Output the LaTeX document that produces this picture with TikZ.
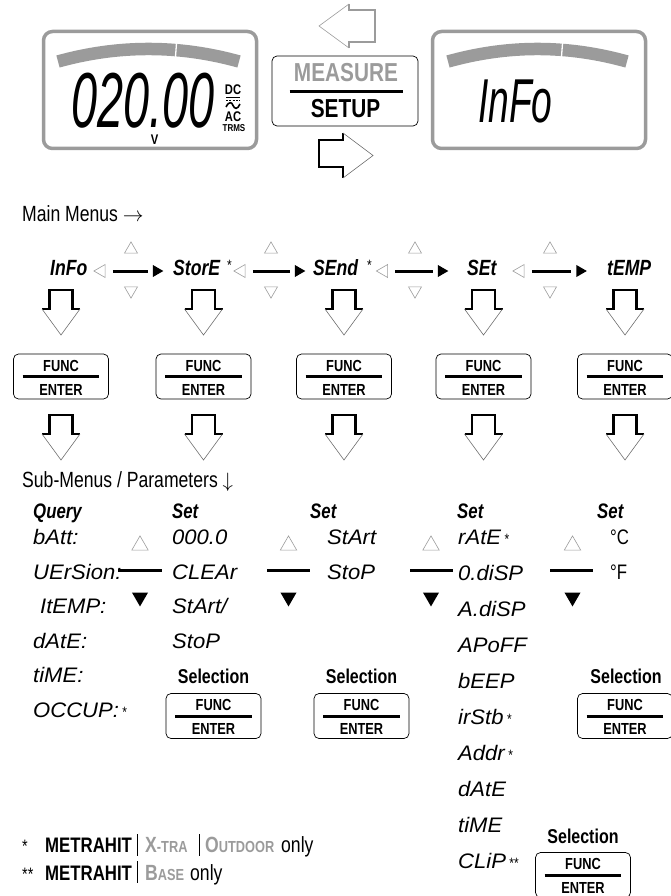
\documentclass[tikz,border=0pt]{standalone}
\usepackage{fontspec}
\setmainfont[FakeStretch=0.8]{Liberation Sans}
\newfontfamily\segfont[FakeStretch=1.05]{Liberation Sans}
\newfontfamily\lcdfont[FakeStretch=0.6]{Liberation Sans}
\usetikzlibrary{shapes.geometric,positioning}
\definecolor{lcdgray}{RGB}{155,155,155}
\definecolor{tipgray}{RGB}{110,110,110}
\newcommand\fsz[1]{\fontsize{#1}{#1}\selectfont}
\newcommand\astx[1]{\,{\normalfont\fsz{15}#1}}

\tikzset{
  lcdbox/.style={draw=lcdgray, line width=3.5pt, rounded corners=9pt, minimum width=213pt, minimum height=117pt},
  lcdbar/.style={draw=lcdgray, line width=12.5pt},
  keybox/.style={draw, line width=0.7pt, rounded corners=5pt, minimum width=95pt, minimum height=45pt, inner sep=0pt},
  keyrule/.style={line width=3pt},
  keytext/.style={font=\fsz{16}\bfseries, inner sep=0pt, anchor=base},
  sectitle/.style={font=\fsz{22}, inner sep=0pt, anchor=base west},
  header/.style={font=\fsz{21}\bfseries\itshape, inner sep=0pt, anchor=base west},
  menuitem/.style={font=\fsz{22}\bfseries\itshape, inner sep=0pt, anchor=base west},
  subitem/.style={font=\segfont\fsz{21}\itshape, inner sep=0pt, anchor=base west},
  seltext/.style={font=\fsz{20}\bfseries, inner sep=0pt, anchor=base},
  tri/.style={regular polygon, regular polygon sides=3, inner sep=0pt},
  graytri/.style={tri, draw=lcdgray, line width=0.6pt},
  blacktri/.style={tri, fill=black},
  menuline/.style={line width=3pt},
  shaft/.style={line width=2.6pt, line join=miter},
  head/.style={draw=tipgray, line width=0.6pt, line join=miter}
}

\begin{document}
\begin{tikzpicture}[x=1pt, y=-1pt]
\useasboundingbox (0,0) rectangle (671,896);

% displays
\node[lcdbox] (lcdL) at (150,90) {};
\node[lcdbox] (lcdR) at (539,90) {};
\draw[lcdbar] (58,61.5) .. controls (118,44.8) and (179,44.8) .. (239,61.5);
\draw[lcdbar] (448,61.5) .. controls (508,44.8) and (567,44.8) .. (627,61.5);
\draw[white, line width=1.3pt] (176.6,42) -- (175.4,58);
\draw[white, line width=1.3pt] (562.6,42) -- (561.4,58);
\node[font=\lcdfont\fsz{78}\itshape, inner sep=0pt, text depth=0pt, anchor=base west] (reading) at (71,128) {020.00};
\node[font=\fsz{14}\bfseries, inner sep=0pt, anchor=base] (unit) at (154.5,145) {V};
\node[font=\fsz{14}\bfseries, inner sep=0pt, anchor=base] (dc) at (233,95) {DC};
\draw[line width=1.6pt] (226,97.5) -- (240,97.5);
\draw[line width=1.2pt, dash pattern=on 2pt off 1.3pt] (226,100.5) -- (240,100.5);
\draw[line width=1.6pt] (226,107) .. controls (229,101) and (232,102) .. (233,105.5) .. controls (234.5,109) and (237.5,110) .. (240,104);
\node[font=\fsz{14}\bfseries, inner sep=0pt, anchor=base] (ac) at (233,122) {AC};
\node[font=\fsz{10}\bfseries, inner sep=0pt, anchor=base] (trms) at (234,132) {TRMS};
\node[font=\lcdfont\fsz{62}\itshape, inner sep=0pt, anchor=base west] (infolcd) at (478,123) {InFo};

% mode key
\node[keybox, minimum width=146pt, minimum height=70pt] (mode) at (345,91) {};
\node[font=\fsz{26}\bfseries, text=lcdgray, inner sep=0pt, anchor=base] (measure) at (346,82) {MEASURE};
\draw[keyrule] ([xshift=18pt]mode.west |- 0,92) -- ([xshift=-15pt]mode.east |- 0,92);
\node[font=\fsz{26}\bfseries, inner sep=0pt, anchor=base] (setup) at (345.5,118) {SETUP};
\draw[shaft, draw=lcdgray] (349,4) -- (349,10) -- (375,10) -- (375,42) -- (349,42) -- (349,48);
\draw[head, draw=lcdgray] (349,48) -- (319,26) -- (349,4);
\draw[shaft] (343,133) -- (343,140) -- (319,140) -- (319,167) -- (343,167) -- (343,178);
\draw[head] (343,178) -- (373,155.5) -- (343,133);

% main menus
\node[sectitle] (mainlbl) at (22,221.5) {Main Menus $\rightarrow$};
\node[menuitem] (info) at (50,275) {InFo};
\node[menuitem] (store) at (173,275) {StorE};
\node[menuitem] (send) at (313,275) {SEnd};
\node[menuitem] (set) at (467,275) {SEt};
\node[menuitem] (temp) at (607,275) {tEMP};
\node[font=\fsz{15}, inner sep=0pt, anchor=base west] (storestar) at (227,270) {*};
\node[font=\fsz{15}, inner sep=0pt, anchor=base west] (sendstar) at (367,270) {*};
\foreach \lx/\rx/\mx [count=\i] in {101.4/156.3/131, 241.4/298.3/271, 383.9/441.3/415, 520.4/579.8/550} {
  \node[graytri, minimum size=15pt, shape border rotate=90] (lt\i) at (\lx,271) {};
  \node[blacktri, minimum size=14pt, shape border rotate=-90] (rt\i) at (\rx,271) {};
  \draw[menuline, shorten <=7.5pt, shorten >=4.8pt] (lt\i) -- (rt\i);
  \node[graytri, minimum size=15pt] (up\i) at (\mx,249.4) {};
  \node[graytri, minimum size=15pt, shape border rotate=180] (dn\i) at (\mx,290.6) {};
}

% enter keys and arrows
\foreach \cx in {61,203.5,344,483.5,625}
  \foreach \ty in {290,415} {
    \draw[shaft] (\cx-19,\ty+19) -- (\cx-11.5,\ty+19) -- (\cx-11.5,\ty) -- (\cx+11.5,\ty) -- (\cx+11.5,\ty+19) -- (\cx+19,\ty+19);
    \draw[head] (\cx+19,\ty+19) -- (\cx,\ty+45) -- (\cx-19,\ty+19);
  }
\foreach \kx/\ky [count=\k] in {61/376.5, 203.5/376.5, 344/376.5, 483.5/376.5, 625/376.5, 213.5/716, 361.5/716, 625/716, 583/875} {
  \node[keybox] (key\k) at (\kx,\ky) {};
  \draw[keyrule] ([xshift=9.5pt]key\k.west) -- ([xshift=-9.5pt]key\k.east);
  \node[keytext] at ([yshift=5.5pt]key\k.center) {FUNC};
  \node[keytext] at ([yshift=-18.5pt]key\k.center) {ENTER};
}

% sub-menus
\node[sectitle] (sublbl) at (22,487) {Sub-Menus / Parameters $\downarrow$};
\node[header] (hquery) at (33,518) {Query};
\node[header] (hset1) at (172,518) {Set};
\node[header] (hset2) at (310,518) {Set};
\node[header] (hset3) at (457,518) {Set};
\node[header] (hset4) at (597,518) {Set};
\foreach \txt [count=\i from 0] in {bAtt:, UErSion:, \hspace{7pt}ItEMP:, dAtE:, tiME:, OCCUP:\astx{*}}
  \node[subitem] (qry\i) at (33,544.5+34.5*\i) {\txt};
\foreach \txt [count=\i from 0] in {000.0, CLEAr, StArt/, StoP}
  \node[subitem] (sto\i) at (172,544.5+34.5*\i) {\txt};
\foreach \txt [count=\i from 0] in {StArt, StoP}
  \node[subitem] (snd\i) at (327,544.5+34.5*\i) {\txt};
\foreach \txt [count=\i from 0] in {rAtE\astx{*}, 0.diSP, A.diSP, APoFF, bEEP, irStb\astx{*}, Addr\astx{*}, dAtE, tiME, CLiP\astx{**}}
  \node[subitem] (sett\i) at (458,544.5+36*\i) {\txt};
\foreach \txt [count=\i from 0] in {°C, °F}
  \node[font=\fsz{21}, inner sep=0pt, anchor=base west] (tmp\i) at (610,544.5+34.5*\i) {\txt};
\foreach \sx/\la/\lb [count=\i] in {140/118/162, 288.5/267/310, 431/410/453, 572.5/550/593} {
  \node[graytri, minimum size=19pt] (su\i) at (\sx,545.4) {};
  \draw[menuline] (\la,570) -- (\lb,570);
  \node[blacktri, minimum size=18.5pt, shape border rotate=180] (sd\i) at (\sx,597.2) {};
}
\node[seltext] (sel1) at (213.5,683) {Selection};
\node[seltext] (sel2) at (361.5,683) {Selection};
\node[seltext] (sel3) at (626,683) {Selection};
\node[seltext] (sel4) at (583,843) {Selection};

% footnotes
\node[font=\fsz{18}, inner sep=0pt, anchor=base west] (fn1) at (22,852) {*};
\node[font=\fsz{21}\bfseries, inner sep=0pt, anchor=base west] (hit1) at (45,852) {METRAHIT};
\draw[line width=0.8pt] (137,834) -- (137,856);
\node[font=\fsz{22}\bfseries, text=lcdgray, inner sep=0pt, anchor=base west] (xtra) at (145,852) {X{\fsz{16}-TRA}};
\draw[line width=0.8pt] (199,834) -- (199,856);
\node[font=\fsz{22}\bfseries, text=lcdgray, inner sep=0pt, anchor=base west] (outdoor) at (205,852) {O{\fsz{16}UTDOOR}};
\node[font=\fsz{22}, inner sep=0pt, anchor=base west] (only1) at (281,852) {only};
\node[font=\fsz{18}, inner sep=0pt, anchor=base west] (fn2) at (22,880) {**};
\node[font=\fsz{21}\bfseries, inner sep=0pt, anchor=base west] (hit2) at (45,880) {METRAHIT};
\draw[line width=0.8pt] (137,861) -- (137,883);
\node[font=\fsz{22}\bfseries, text=lcdgray, inner sep=0pt, anchor=base west] (base) at (145,880) {B{\fsz{16}ASE}};
\node[font=\fsz{22}, inner sep=0pt, anchor=base west] (only2) at (190,880) {only};
\end{tikzpicture}
\end{document}
